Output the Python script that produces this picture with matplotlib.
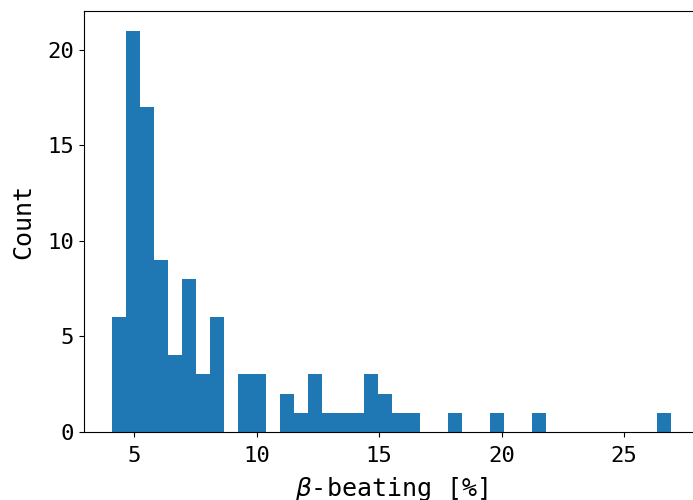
import numpy as np
import matplotlib
matplotlib.use('Agg')
import matplotlib.pyplot as plt

plt.rcParams['font.family'] = 'DejaVu Sans Mono'

# histogram: 40 equal bins between these limits
beat_min = 4.09
beat_max = 26.93
counts = [6, 21, 17, 9, 4, 8, 3, 6, 0, 3,
          3, 0, 2, 1, 3, 1, 1, 1, 3, 2,
          1, 1, 0, 0, 1, 0, 0, 1, 0, 0,
          1, 0, 0, 0, 0, 0, 0, 0, 0, 1]

edges = np.linspace(beat_min, beat_max, len(counts) + 1)
centres = 0.5 * (edges[:-1] + edges[1:])

fig = plt.figure(figsize=(6.93, 5.0), dpi=100)
ax = fig.add_axes([0.1212, 0.1366, 0.888, 0.842])
ax.hist(centres, bins=edges, weights=counts, color='C0')
ax.set_xlabel(r'$\beta$-beating [%]', fontsize=18, labelpad=6)
ax.set_ylabel('Count', fontsize=18, labelpad=9)
ax.tick_params(labelsize=16)
ax.tick_params(axis='x', pad=7)
ax.set_xticks([5, 10, 15, 20, 25])
ax.set_yticks([0, 5, 10, 15, 20])

plt.savefig('out.png', dpi=100)
